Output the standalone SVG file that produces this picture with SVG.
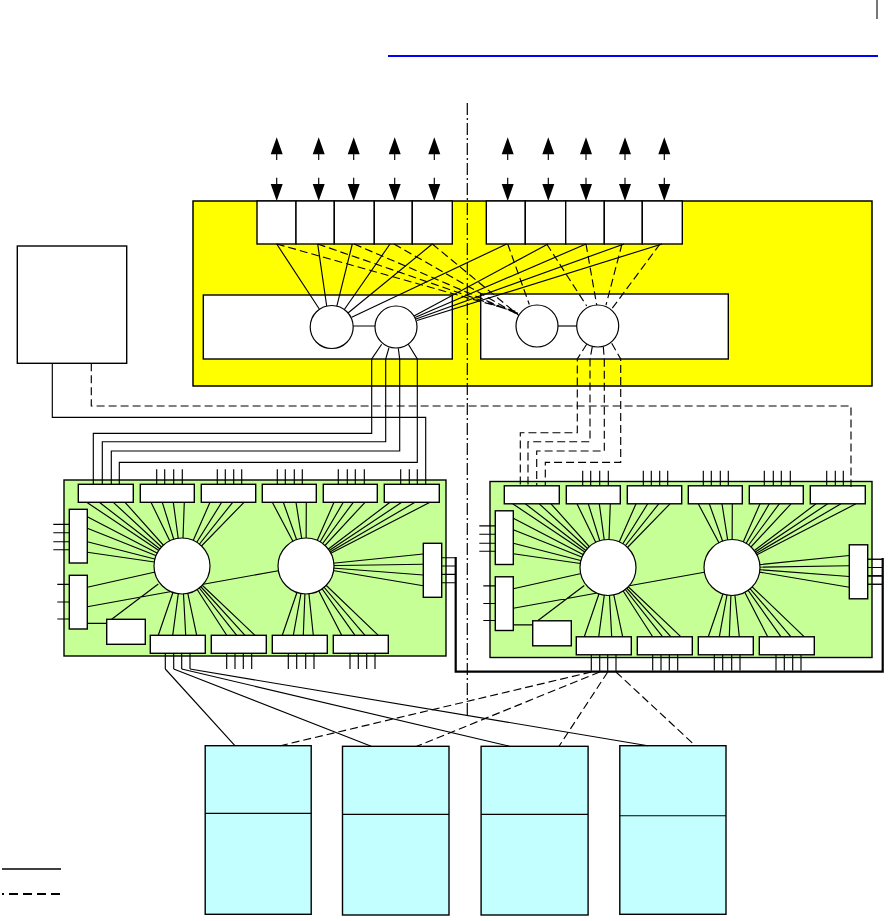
<svg xmlns="http://www.w3.org/2000/svg" xmlns:xlink="http://www.w3.org/1999/xlink" width="889" height="921" viewBox="0 0 889 921">
<style>
.box{fill:#fff;stroke:#000;stroke-width:1.4}
.ln{fill:none;stroke:#000;stroke-width:1.15}
.ds{fill:none;stroke:#000;stroke-width:1.15;stroke-dasharray:8 4}
.yel{fill:#ffff00;stroke:#000;stroke-width:1.5}
.grn{fill:#c6ff96;stroke:#000;stroke-width:1.4}
.cyn{fill:#c4ffff;stroke:#000;stroke-width:1.4}
.circ{fill:#fff;stroke:#000;stroke-width:1.2}
.arr{fill:#000}
</style>
<defs>
<g id="boardTpl">
  <rect class="grn" x="64" y="480" width="382" height="176"/>
  <path class="ln" d="M156.7 469.3V484.3M164.7 469.3V484.3M173.7 469.3V484.3M182.3 469.3V484.3
  M217.3 469.3V484.3M225.3 469.3V484.3M233.7 469.3V484.3M241.7 469.3V484.3
  M277.3 469.3V484.3M285.3 469.3V484.3M294.3 469.3V484.3M302.3 469.3V484.3
  M338.3 469.3V484.3M347.3 469.3V484.3M355.3 469.3V484.3M364.3 469.3V484.3
  M400.7 469.3V484.3M409.3 469.3V484.3M417.3 469.3V484.3"/>
  <path class="ln" d="M165.3 653.3V669M173.7 653.3V669M181.7 653.3V669M190 653.3V669
  M226.7 653.3V669M235 653.3V669M243.3 653.3V669M251.7 653.3V669
  M288.3 653.3V669M296.7 653.3V669M305.7 653.3V669M314 653.3V669
  M350 653.3V669M358.3 653.3V669M366.7 653.3V669M375 653.3V669"/>
  <path class="ln" d="M53.3 524.3H69.3M53.3 532.7H69.3M53.3 541.7H69.3M53.3 549.7H69.3
  M57.3 584.3H69.3M57.3 602H69.3M57.3 619H69.3
  M441.7 557.7H456M441.7 566H456M441.7 574.3H456M441.7 582.7H456"/>
  <path class="ln" d="M86.7 502.3L182 566M99.3 502.3L182 566M113.3 502.3L182 566M125 502.3L182 566
  M151 502.3L182 566M162.3 502.3L182 566M173.3 502.3L182 566M184.3 502.3L182 566
  M210 502.3L182 566M221.7 502.3L182 566M232.7 502.3L182 566M244 502.3L182 566
  M87.3 516.7L182 566M87.3 528.3L182 566M87.3 541.7L182 566M87.3 552.3L182 566
  M87.3 587.3L182 566M87.3 606.7L170 591.7
  M158.3 635.3L182 566M172.7 635.3L182 566M185.7 635.3L182 566M196.7 635.3L182 566
  M226.7 635.3L182 566M236.7 635.3L182 566M245 635.3L182 566M255 635.3L182 566
  M272.3 502.3L306 566M283.3 502.3L306 566M296 502.3L306 566M306.3 502.3L306 566
  M334 502.3L306 566M343.3 502.3L306 566M353.3 502.3L306 566M365 502.3L306 566
  M390 502.3L306 566M401.7 502.3L306 566M415 502.3L306 566M430 502.3L306 566
  M423.3 554L306 566M423.3 564.3L306 566M423.3 575L306 566M423.3 585.7L306 566
  M282.3 635.3L306 566M293.3 635.3L306 566M303.3 635.3L306 566M313.3 635.3L306 566
  M341.7 635.3L306 566M355 635.3L306 566M365 635.3L306 566M378.3 635.3L306 566
  M87.3 623.3H106.7M111.7 619.3L158.3 584M203.3 584.3L278.3 570.7"/>
  <rect class="box" x="78.3" y="484.3" width="55" height="18"/>
  <rect class="box" x="140.3" y="484.3" width="54" height="18"/>
  <rect class="box" x="201.3" y="484.3" width="54.4" height="18"/>
  <rect class="box" x="262.3" y="484.3" width="54" height="18"/>
  <rect class="box" x="323.3" y="484.3" width="54" height="18"/>
  <rect class="box" x="384.3" y="484.3" width="55" height="18"/>
  <rect class="box" x="69.3" y="509.3" width="18" height="53.7"/>
  <rect class="box" x="69.3" y="575.3" width="18" height="53.7"/>
  <rect class="box" x="106.7" y="619.3" width="38.6" height="25"/>
  <rect class="box" x="150.3" y="635.3" width="55" height="18"/>
  <rect class="box" x="211.3" y="635.3" width="55" height="18"/>
  <rect class="box" x="272.3" y="635.3" width="55" height="18"/>
  <rect class="box" x="333.3" y="635.3" width="55" height="18"/>
  <rect class="box" x="423.3" y="543.3" width="18.4" height="54"/>
  <circle class="circ" cx="182" cy="566" r="28"/>
  <circle class="circ" cx="306" cy="566" r="28"/>
</g>
</defs>

<line x1="388" y1="56" x2="878" y2="56" stroke="#0000ff" stroke-width="2"/>
<line x1="877" y1="0" x2="877" y2="19" stroke="#777" stroke-width="2"/>

<g id="switch-box">
  <rect class="yel" x="193" y="201" width="679" height="185"/>
  <rect class="box" x="203.3" y="295" width="249" height="64"/>
  <rect class="box" x="480.7" y="294" width="247.6" height="65"/>
</g>

<g id="ports-left">
  <rect class="box" x="257" y="201" width="39" height="43"/>
  <rect class="box" x="296" y="201" width="38.3" height="43"/>
  <rect class="box" x="334.3" y="201" width="40" height="43"/>
  <rect class="box" x="374.3" y="201" width="38" height="43"/>
  <rect class="box" x="412.3" y="201" width="40" height="43"/>
</g>
<g id="ports-right">
  <rect class="box" x="486.3" y="201" width="39" height="43"/>
  <rect class="box" x="525.3" y="201" width="40.4" height="43"/>
  <rect class="box" x="565.7" y="201" width="38.6" height="43"/>
  <rect class="box" x="604.3" y="201" width="38" height="43"/>
  <rect class="box" x="642.3" y="201" width="40" height="43"/>
</g>

<g id="arrows">
  <path class="ln" d="M276.7 154V160M318.7 154V160M353.7 154V160M394.7 154V160M434.3 154V160M507.7 154V160M548.3 154V160M586 154V160M625 154V160M664.3 154V160
  M276.7 177.7V185M318.7 177.7V185M353.7 177.7V185M394.7 177.7V185M434.3 177.7V185M507.7 177.7V185M548.3 177.7V185M586 177.7V185M625 177.7V185M664.3 177.7V185"/>
  <path class="arr" d="M276.7 137.3l-6 17h12zM318.7 137.3l-6 17h12zM353.7 137.3l-6 17h12zM394.7 137.3l-6 17h12zM434.3 137.3l-6 17h12zM507.7 137.3l-6 17h12zM548.3 137.3l-6 17h12zM586 137.3l-6 17h12zM625 137.3l-6 17h12zM664.3 137.3l-6 17h12z
  M276.7 201l-6 -17h12zM318.7 201l-6 -17h12zM353.7 201l-6 -17h12zM394.7 201l-6 -17h12zM434.3 201l-6 -17h12zM507.7 201l-6 -17h12zM548.3 201l-6 -17h12zM586 201l-6 -17h12zM625 201l-6 -17h12zM664.3 201l-6 -17h12z"/>
</g>

<g id="manager">
  <rect class="box" x="17.3" y="246" width="109.4" height="117.3"/>
</g>

<g id="board-left"><use xlink:href="#boardTpl" href="#boardTpl"/></g>
<g id="board-right"><use xlink:href="#boardTpl" href="#boardTpl" transform="translate(426,1.5)"/></g>

<g id="storage-1"><rect class="cyn" x="205.2" y="745.7" width="106" height="168.6"/><line class="ln" x1="205.2" y1="813.3" x2="311.2" y2="813.3"/></g>
<g id="storage-2"><rect class="cyn" x="342.5" y="746.3" width="106.5" height="168.7"/><line class="ln" x1="342.5" y1="814.3" x2="449" y2="814.3"/></g>
<g id="storage-3"><rect class="cyn" x="481.1" y="746.3" width="107" height="168.7"/><line class="ln" x1="481.1" y1="814.3" x2="588.1" y2="814.3"/></g>
<g id="storage-4"><rect class="cyn" x="619.8" y="745.7" width="106.2" height="168.6"/><line class="ln" x1="619.8" y1="815.7" x2="726" y2="815.7"/></g>

<g id="connectors">
  <path class="ln" d="M276.7 244L319.3 309M317.7 244L326.7 306M352.3 244L336.7 306.7M390 244L344 310M432.3 244L347.7 313.3
  M506.7 244L351.7 317.3M548 244L414 316M586 244L415 317.5M624 244L416 319M662 244L417 320.5
  M353.2 326H375"/>
  <path class="ln" d="M558 326H577"/>
  <path class="ds" d="M276.7 244L518 312M317.7 244L519 313.5M354 244L520 315M394 244L521 316.5M432.3 244L522 318
  M507.7 244L529.3 304.5M546.7 244L586.7 306M586 244L596.7 305M622 244L606 305M660 244L611.7 309"/>
  <path class="ln" d="M381.7 344.3L371.7 359V433.3H93.3V484.3M389 347.7L385.7 359V441.7H102.3V484.3M398.3 348.3L399.7 359V451H111.3V484.3M408.3 344.3L417.3 359V462.3H119.3V484.3"/>
  <path class="ds" d="M586.7 344.3L577.3 359V432.7H520.3V485.7M592.3 346.7L590 359V441.7H528V485.7M603.3 346.7L604.3 359V451H536.7V485.7M611.7 343.3L620.7 359V462.3H545.3V485.7"/>
  <path class="ln" d="M52.3 363.3V417.3H425.7V484.3"/>
  <path class="ds" d="M91.3 363.3V406H851V487"/>
  <path fill="none" stroke="#000" stroke-width="2.2" d="M455.7 557V671.7H882.7V558"/>
  <path class="ln" d="M867.7 559.2H882.7M867.7 567.5H882.7M867.7 575.8H882.7M867.7 584.2H882.7"/>
  <path class="ln" d="M165.3 669L234.9 745.7M173.7 669L371.2 746.3M181.7 669L509.6 746.3M190 669L647.9 745.7"/>
  <path class="ln" d="M591.3 670.5V671.7M599.7 670.5V671.7M607.7 670.5V671.7M616 670.5V671.7"/>
  <path class="ds" d="M591.3 672L280.3 745.7M599.7 672L416.7 746.3M607.7 672L559 746.3M616 672L695.3 745.7"/>
  <line x1="467.3" y1="103" x2="467.3" y2="715" stroke="#000" stroke-width="1.2" stroke-dasharray="12 3 2 3"/>
</g>

<g id="circles-switch">
  <circle class="circ" cx="331.7" cy="327" r="21.5"/>
  <circle class="circ" cx="396" cy="327" r="21"/>
  <circle class="circ" cx="537" cy="326" r="21"/>
  <circle class="circ" cx="597.7" cy="326" r="21"/>
</g>

<g id="legend">
  <line x1="2" y1="869" x2="61" y2="869" stroke="#000" stroke-width="1.3"/>
  <line x1="2" y1="894" x2="61" y2="894" stroke="#000" stroke-width="2.2" stroke-dasharray="2 5 9 5 9 5 9 5 9"/>
</g>
</svg>
